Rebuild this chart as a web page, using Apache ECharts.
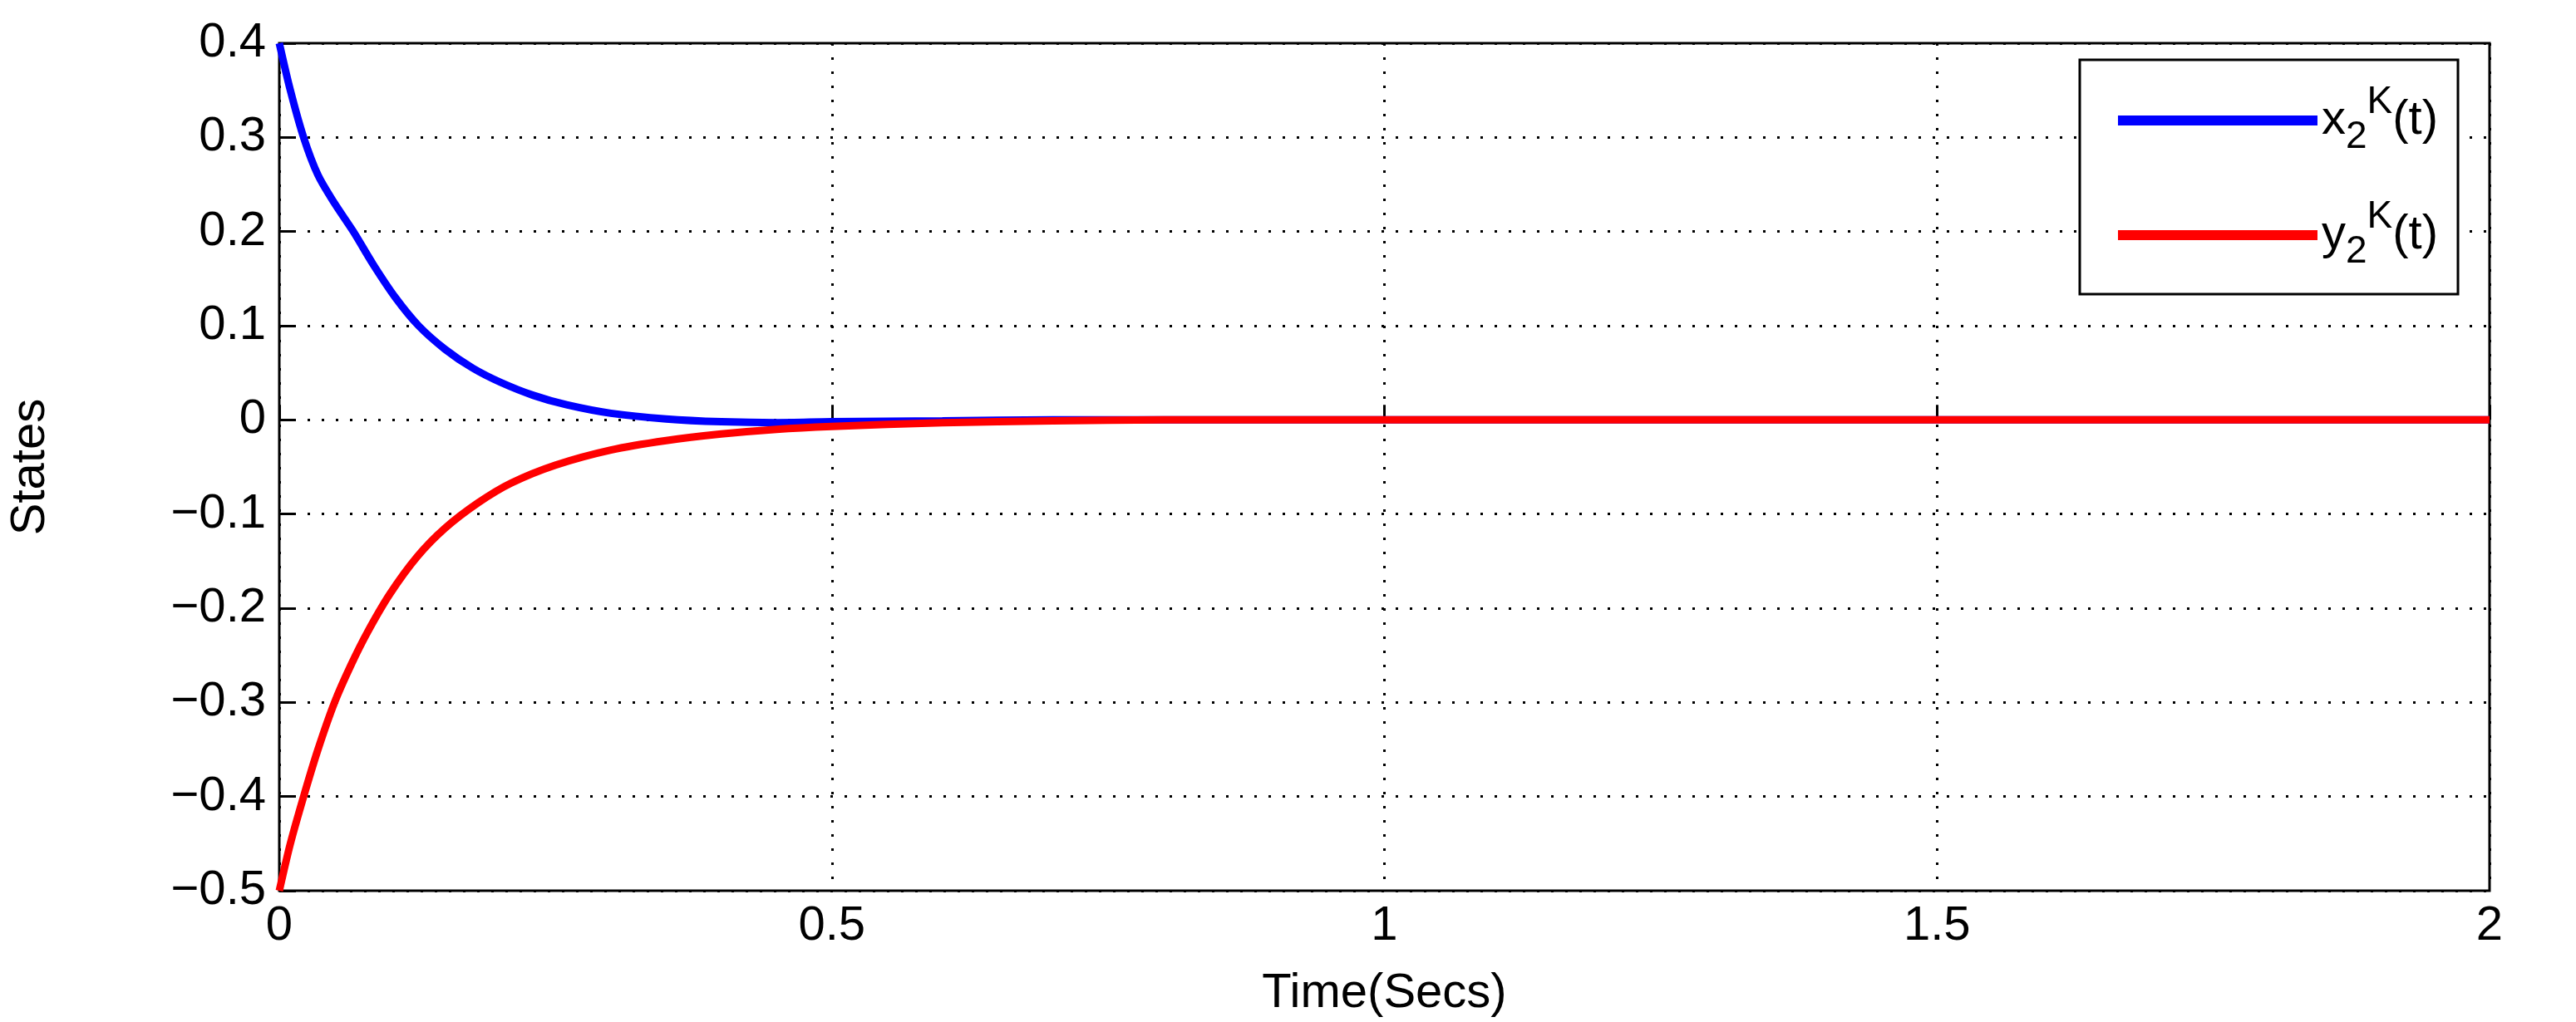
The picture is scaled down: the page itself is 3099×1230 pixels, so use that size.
<!DOCTYPE html>
<html><head><meta charset="utf-8">
<script src="https://cdn.jsdelivr.net/npm/echarts@6/dist/echarts.min.js"></script>
<style>html,body{margin:0;padding:0;background:#fff}#c{width:3099px;height:1230px}</style>
</head><body><div id="c"></div>
<script>
const tX = [0,0.01,0.022,0.035,0.05,0.067,0.085,0.105,0.126,0.15,0.175,0.2,0.23,0.26,0.3,0.35,0.4,0.45,0.5,0.6,0.7,0.8,1,1.5,2];
const x2 = [0.4,0.35,0.3,0.26,0.23,0.2,0.165,0.13,0.1,0.075,0.055,0.04,0.026,0.016,0.007,0.001,-0.002,-0.003,-0.002,-0.001,0,0,0,0,0];
const tY = [0,0.01,0.022,0.035,0.05,0.065,0.08,0.1,0.125,0.15,0.18,0.21,0.25,0.3,0.35,0.4,0.45,0.5,0.6,0.7,0.8,1,1.5,2];
const y2 = [-0.5,-0.45,-0.4,-0.35,-0.3,-0.26,-0.225,-0.185,-0.145,-0.115,-0.088,-0.067,-0.048,-0.032,-0.022,-0.015,-0.01,-0.007,-0.003,-0.001,0,0,0,0];
const xTicks = [0,0.5,1,1.5,2];
const yTicks = [-0.5,-0.4,-0.3,-0.2,-0.1,0,0.1,0.2,0.3,0.4];
const names = ['x2K','y2K'];
const F = 'Liberation Sans, Arial, sans-serif';
const FS = 58;
const chart = echarts.init(document.getElementById('c'));
const rich = {m:{fontSize:FS,fontFamily:F,color:'#000'},s:{fontSize:46,fontFamily:F,color:'#000',padding:[0,0,-40,0]},p:{fontSize:46,fontFamily:F,color:'#000',padding:[0,0,44,0]}};
chart.setOption({
  animation:false,
  grid:{left:323,right:3099-2995,top:52,bottom:1230-1080,show:true,borderColor:'#000',borderWidth:3,backgroundColor:'transparent'},
  legend:{right:3099-2957,top:72,orient:'vertical',itemWidth:240,itemHeight:12,itemGap:50,
    padding:[28,24,28,46],borderColor:'#000',borderWidth:3,backgroundColor:'#fff',
    icon:'rect',
    formatter:n=> n==='x2K' ? '{m|x}{s|2}{p|K}{m|(t)}' : '{m|y}{s|2}{p|K}{m|(t)}',
    textStyle:{rich}},
  xAxis:{type:'value',min:0,max:2,interval:0.5,
    name:'Time(Secs)',nameLocation:'middle',nameGap:95,nameTextStyle:{fontSize:FS,fontFamily:F,color:'#000'},
    axisLine:{show:false},axisTick:{inside:true,length:18,lineStyle:{color:'#000',width:3}},
    axisLabel:{fontSize:FS,fontFamily:F,color:'#000',margin:14,formatter:v=>String(v)},
    splitLine:{show:true,lineStyle:{type:[3,14],color:'#000',width:3}}},
  yAxis:{type:'value',min:-0.5,max:0.4,interval:0.1,
    name:'States',nameLocation:'middle',nameGap:270,nameTextStyle:{fontSize:FS,fontFamily:F,color:'#000'},
    axisLine:{show:false},axisTick:{inside:true,length:18,lineStyle:{color:'#000',width:3}},
    axisLabel:{fontSize:FS,fontFamily:F,color:'#000',margin:16,formatter:v=>{const r=Math.round(v*10)/10;return r===0?'0':String(r).replace('-','\u2212');}},
    splitLine:{show:true,lineStyle:{type:[3,14],color:'#000',width:3}}},
  series:[
    {name:names[0],type:'line',smooth:0.3,showSymbol:false,data:tX.map((t,i)=>[t,x2[i]]),lineStyle:{color:'#0000ff',width:9},itemStyle:{color:'#0000ff'},z:3},
    {name:names[1],type:'line',smooth:0.3,showSymbol:false,data:tY.map((t,i)=>[t,y2[i]]),lineStyle:{color:'#ff0000',width:9},itemStyle:{color:'#ff0000'},z:4}
  ]
});
</script></body></html>
